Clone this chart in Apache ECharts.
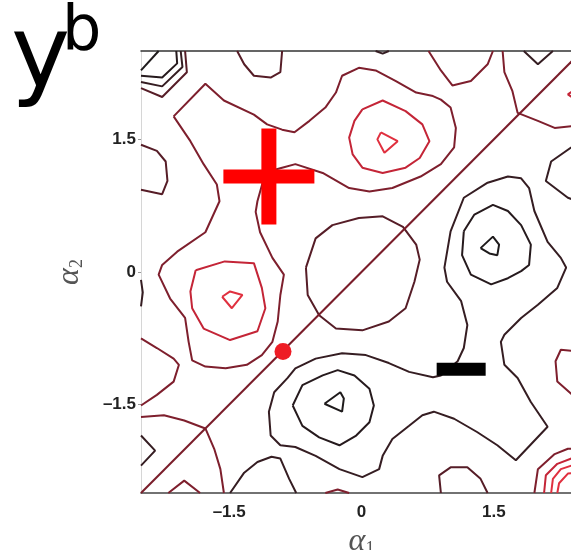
<!DOCTYPE html>
<html>
<head>
<meta charset="utf-8">
<script src="https://cdn.jsdelivr.net/npm/echarts@6/dist/echarts.min.js"></script>
<style>
  html, body { margin: 0; padding: 0; background: #fff; }
  #main { width: 571px; height: 550px; }
</style>
</head>
<body>
<div id="main"></div>
<script>
// contour polylines, in (alpha1, alpha2) units
var cornerTL1 = [[-2.5, 2.28], [-2.30, 2.5]];
var cornerTL2 = [[-2.5, 2.22], [-2.26, 2.20], [-2.09, 2.36], [-2.10, 2.5]];
var cornerTL3 = [[-2.5, 2.15], [-2.26, 2.10], [-2.03, 2.32], [-2.05, 2.5]];
var cornerTL4 = [[-2.5, 2.08], [-2.26, 1.98], [-1.98, 2.26], [-2.00, 2.5]];
var topLoop = [[-1.41, 2.5], [-1.33, 2.35], [-1.22, 2.22], [-1.03, 2.20], [-0.92, 2.26], [-0.90, 2.5]];

var plusOuter = [[-2.13, 1.76], [-1.77, 2.13], [-1.56, 1.94], [-1.22, 1.78], [-1.07, 1.67], [-0.90, 1.61],
    [-0.76, 1.58], [-0.59, 1.71], [-0.41, 1.86], [-0.29, 2.03], [-0.22, 2.22], [-0.03, 2.31], [0.16, 2.28],
    [0.39, 2.16], [0.62, 2.03], [0.81, 1.99], [0.90, 1.95], [1.01, 1.86], [1.07, 1.63], [1.05, 1.41],
    [0.90, 1.22], [0.67, 1.08], [0.35, 0.95], [0.09, 0.91], [-0.14, 0.95], [-0.44, 1.12], [-0.75, 1.22],
    [-0.90, 1.18], [-1.05, 1.14], [-1.11, 1.05], [-1.18, 0.80], [-1.20, 0.68], [-1.15, 0.45], [-1.01, 0.16],
    [-0.88, -0.03], [-0.92, -0.26], [-0.95, -0.56], [-1.01, -0.79], [-1.13, -0.94], [-1.30, -1.05],
    [-1.54, -1.09], [-1.77, -1.07], [-1.92, -1.00], [-1.96, -0.79], [-2.00, -0.52], [-2.17, -0.30],
    [-2.30, -0.03], [-2.26, 0.08], [-2.09, 0.23], [-1.77, 0.45], [-1.61, 0.80], [-1.64, 0.99],
    [-1.79, 1.22], [-1.94, 1.48], [-2.13, 1.76]];
var upperRing = [[0.01, 1.84], [0.24, 1.94], [0.50, 1.82], [0.69, 1.67], [0.77, 1.48], [0.66, 1.29],
    [0.50, 1.18], [0.24, 1.12], [0.01, 1.18], [-0.10, 1.33], [-0.14, 1.52], [-0.08, 1.71], [0.01, 1.84]];
var upperCore = [[0.22, 1.58], [0.41, 1.48], [0.26, 1.35], [0.18, 1.50], [0.22, 1.58]];
var leftRing = [[-1.88, 0.02], [-1.55, 0.12], [-1.22, 0.10], [-1.13, -0.18], [-1.09, -0.41], [-1.18, -0.67],
    [-1.49, -0.77], [-1.79, -0.64], [-1.92, -0.41], [-1.94, -0.22], [-1.88, 0.02]];
var leftCore = [[-1.58, -0.28], [-1.49, -0.22], [-1.35, -0.26], [-1.47, -0.41], [-1.58, -0.28]];

var centreLoop = [[-0.63, 0.05], [-0.61, -0.26], [-0.48, -0.49], [-0.29, -0.64], [0.01, -0.66], [0.31, -0.56],
    [0.50, -0.41], [0.60, -0.11], [0.66, 0.14], [0.62, 0.31], [0.47, 0.51], [0.24, 0.63], [-0.03, 0.61],
    [-0.33, 0.53], [-0.52, 0.38], [-0.63, 0.05]];

var minusOuter = [[-0.84, -1.20], [-0.75, -1.09], [-0.52, -0.98], [-0.22, -0.92], [0.05, -0.94], [0.31, -1.03],
    [0.54, -1.13], [0.81, -1.19], [0.90, -1.17], [1.09, -1.01], [1.16, -0.86], [1.20, -0.60], [1.13, -0.33],
    [0.97, -0.11], [0.94, 0.05], [1.01, 0.46], [1.16, 0.84], [1.43, 1.01], [1.66, 1.08], [1.81, 1.06],
    [1.90, 0.95], [1.96, 0.69], [2.11, 0.34], [2.26, 0.16], [2.32, 0.05], [2.22, -0.18], [2.00, -0.37],
    [1.81, -0.52], [1.62, -0.71], [1.58, -0.79], [1.62, -1.05], [1.77, -1.20], [1.92, -1.47], [2.11, -1.75],
    [1.75, -2.13], [1.54, -1.96], [1.31, -1.81], [1.05, -1.66], [0.82, -1.58], [0.69, -1.62], [0.54, -1.74],
    [0.35, -1.89], [0.24, -2.08], [0.20, -2.23], [0.01, -2.32], [-0.25, -2.23], [-0.52, -2.08], [-0.75, -1.98],
    [-0.92, -1.96], [-1.03, -1.85], [-1.05, -1.58], [-0.99, -1.36], [-0.84, -1.20]];
var rightRing = [[1.16, 0.46], [1.28, 0.65], [1.49, 0.76], [1.66, 0.69], [1.81, 0.53], [1.92, 0.31], [1.90, 0.08],
    [1.81, 0.01], [1.66, -0.07], [1.47, -0.14], [1.24, -0.03], [1.14, 0.19], [1.16, 0.46]];
var rightCore = [[1.35, 0.27], [1.49, 0.40], [1.56, 0.31], [1.54, 0.19], [1.45, 0.21], [1.35, 0.27]];
var lowRing = [[-0.78, -1.51], [-0.67, -1.28], [-0.44, -1.17], [-0.27, -1.11], [-0.08, -1.17], [0.09, -1.32],
    [0.14, -1.51], [0.09, -1.70], [-0.06, -1.85], [-0.25, -1.96], [-0.48, -1.87], [-0.67, -1.74], [-0.78, -1.51]];
var lowCore = [[-0.42, -1.49], [-0.24, -1.36], [-0.20, -1.43], [-0.22, -1.58], [-0.42, -1.49]];

// pieces cut by the frame
var edgeLeftTop = [[-2.5, 1.44], [-2.32, 1.37], [-2.22, 1.25], [-2.20, 1.03], [-2.26, 0.88], [-2.5, 0.93]];
var edgeLeftMid = [[-2.5, -0.09], [-2.48, -0.23], [-2.5, -0.39]];
var edgeLeftLow = [[-2.5, -0.75], [-2.32, -0.86], [-2.13, -0.98], [-2.07, -1.05], [-2.13, -1.24], [-2.32, -1.39], [-2.5, -1.51]];
var edgeCrossLow = [[-2.5, -1.64], [-2.24, -1.62], [-2.01, -1.68], [-1.77, -1.77], [-1.67, -2.00], [-1.60, -2.23], [-1.56, -2.5]];
var edgeLeftBottom = [[-2.5, -1.85], [-2.34, -2.02], [-2.5, -2.19]];
var edgeBottom1 = [[-2.19, -2.5], [-2.01, -2.36], [-1.83, -2.5]];
var edgeBottom2 = [[-1.49, -2.5], [-1.33, -2.27], [-1.18, -2.15], [-1.02, -2.09], [-0.92, -2.11], [-0.82, -2.34], [-0.74, -2.5]];
var edgeBottom3 = [[-0.41, -2.5], [-0.27, -2.46], [-0.14, -2.5]];
var edgeBottom4 = [[0.90, -2.5], [0.88, -2.30], [1.01, -2.21], [1.20, -2.21], [1.35, -2.34], [1.43, -2.5]];
var cornerBR1 = [[1.96, -2.5], [2.00, -2.23], [2.19, -2.06], [2.34, -2.00], [2.5, -2.00]];
var cornerBR2 = [[2.07, -2.5], [2.09, -2.30], [2.22, -2.17], [2.38, -2.11], [2.5, -2.10]];
var cornerBR3 = [[2.15, -2.5], [2.17, -2.34], [2.26, -2.23], [2.38, -2.19], [2.5, -2.19]];
var cornerBR4 = [[2.22, -2.5], [2.24, -2.39], [2.34, -2.28], [2.5, -2.27]];
var edgeRightLow = [[2.5, -0.90], [2.26, -0.88], [2.20, -1.01], [2.22, -1.24], [2.38, -1.38], [2.5, -1.42]];
var edgeRightMid = [[2.5, 1.50], [2.38, 1.41], [2.15, 1.25], [2.09, 1.03], [2.34, 0.84], [2.5, 0.78]];
var edgeCrossTop = [[1.60, 2.5], [1.62, 2.26], [1.71, 2.05], [1.77, 1.80], [2.00, 1.71], [2.19, 1.63], [2.38, 1.65], [2.5, 1.68]];
var edgeTopRight = [[1.84, 2.5], [2.00, 2.35], [2.17, 2.5]];
var edgeTop = [[0.76, 2.5], [0.90, 2.28], [1.03, 2.11], [1.24, 2.16], [1.43, 2.35], [1.49, 2.5]];
var edgeRightTop = [[2.5, 2.12], [2.34, 2.01], [2.5, 1.90]];
var edgeTopSmall = [[0.16, 2.5], [0.24, 2.47], [0.31, 2.5]];

// each contour with its level (-3 deepest trough ... 3 highest peak)
var contours = [
    [cornerTL1, -3], [cornerTL2, -2], [cornerTL3, -1], [cornerTL4, 0], [topLoop, 0],
    [plusOuter, 1], [upperRing, 2], [upperCore, 3], [leftRing, 2], [leftCore, 3],
    [centreLoop, 0], [minusOuter, -1], [rightRing, -2], [rightCore, -3], [lowRing, -2], [lowCore, -3],
    [edgeLeftTop, 0], [edgeLeftMid, -1], [edgeLeftLow, 1], [edgeCrossLow, 1], [edgeLeftBottom, -1],
    [edgeBottom1, 1], [edgeBottom2, -1], [edgeBottom3, 1], [edgeBottom4, 0],
    [cornerBR1, 1], [cornerBR2, 2], [cornerBR3, 3], [cornerBR4, 3],
    [edgeRightLow, 1], [edgeRightMid, -1], [edgeCrossTop, 1], [edgeTopRight, -1], [edgeTop, 1],
    [edgeRightTop, 2], [edgeTopSmall, -1]
];

var diagonal = [[-2.5, -2.5], [2.5, 2.5]];
var dotPoint = [[-0.89, -0.90]];
var plusPoint = [[-1.05, 1.08]];
var minusPoint = [[1.13, -1.10]];
var tickValues = [-1.5, 0, 1.5];

var levelColor = {
    '-3': '#1e1a1b', '-2': '#261a1d', '-1': '#351d22', '0': '#561d27',
    '1': '#7e1f2d', '2': '#c42537', '3': '#e0303f'
};

var series = contours.map(function (c) {
    return {
        type: 'line', data: c[0], symbol: 'none', silent: true, z: 2,
        lineStyle: {color: levelColor[c[1]], width: 2}
    };
});
series.push({type: 'line', data: diagonal, symbol: 'none', silent: true, z: 3,
    lineStyle: {color: '#7a1d2a', width: 2}});
series.push({type: 'scatter', data: dotPoint, symbol: 'circle', symbolSize: 17, z: 4,
    itemStyle: {color: '#ee1c25', opacity: 1}});
series.push({type: 'scatter', data: plusPoint, symbol: 'rect', symbolSize: [91, 14], z: 5,
    itemStyle: {color: '#ff0000', opacity: 1}});
series.push({type: 'scatter', data: plusPoint, symbol: 'rect', symbolSize: [15, 96], z: 5,
    itemStyle: {color: '#ff0000', opacity: 1}});
series.push({type: 'scatter', data: minusPoint, symbol: 'rect', symbolSize: [49, 13], z: 5,
    itemStyle: {color: '#000000', opacity: 1}});

var tickFmt = function (v) {
    return v < 0 ? '\u2013' + Math.abs(v) : String(v);
};
var labelFont = {fontFamily: 'Liberation Sans', fontWeight: 'bold', fontSize: 17, color: '#222'};
var alphaRich = {
    a: {fontFamily: 'Liberation Serif', fontStyle: 'italic', fontSize: 32, color: '#555', lineHeight: 32},
    s: {fontFamily: 'Liberation Serif', fontSize: 18, color: '#555', lineHeight: 18, verticalAlign: 'bottom'}
};

var myChart = echarts.init(document.getElementById('main'), null, {renderer: 'canvas'});
var option = {
    animation: false,
    backgroundColor: '#fff',
    grid: {left: 141, top: 51, right: -11, bottom: 57, outerBoundsMode: 'none'},
    xAxis: [{
        type: 'value', min: -2.5, max: 2.5,
        axisLine: {show: true, onZero: false, lineStyle: {color: '#444', width: 1.5}},
        axisTick: {show: false},
        splitLine: {show: false},
        axisLabel: Object.assign({customValues: tickValues, formatter: tickFmt, margin: 11}, labelFont),
        name: '{a|\u03b1}{s|1}', nameLocation: 'middle', nameGap: 25,
        nameTextStyle: {rich: alphaRich}
    }, {
        type: 'value', min: -2.5, max: 2.5, position: 'top',
        axisLine: {show: true, onZero: false, lineStyle: {color: '#333', width: 1.5}},
        axisTick: {show: false}, axisLabel: {show: false}, splitLine: {show: false}
    }],
    yAxis: {
        type: 'value', min: -2.5, max: 2.5,
        axisLine: {show: true, onZero: false, lineStyle: {color: '#d6d6d6', width: 1}},
        axisTick: {show: true, customValues: tickValues, length: 3, lineStyle: {color: '#999'}},
        splitLine: {show: false},
        axisLabel: Object.assign({customValues: tickValues, formatter: tickFmt, margin: 5}, labelFont),
        name: '{a|\u03b1}{s|2}', nameLocation: 'middle', nameGap: 55, nameRotate: 90,
        nameTextStyle: {rich: alphaRich}
    },
    graphic: [
        {type: 'text', left: 11, top: 10, style: {text: 'y', font: '100px "DejaVu Sans"', fill: '#000'}},
        {type: 'text', left: 62, top: 2, style: {text: 'b', font: '62px "DejaVu Sans"', fill: '#000'}}
    ],
    series: series
};
myChart.setOption(option);
</script>
</body>
</html>
